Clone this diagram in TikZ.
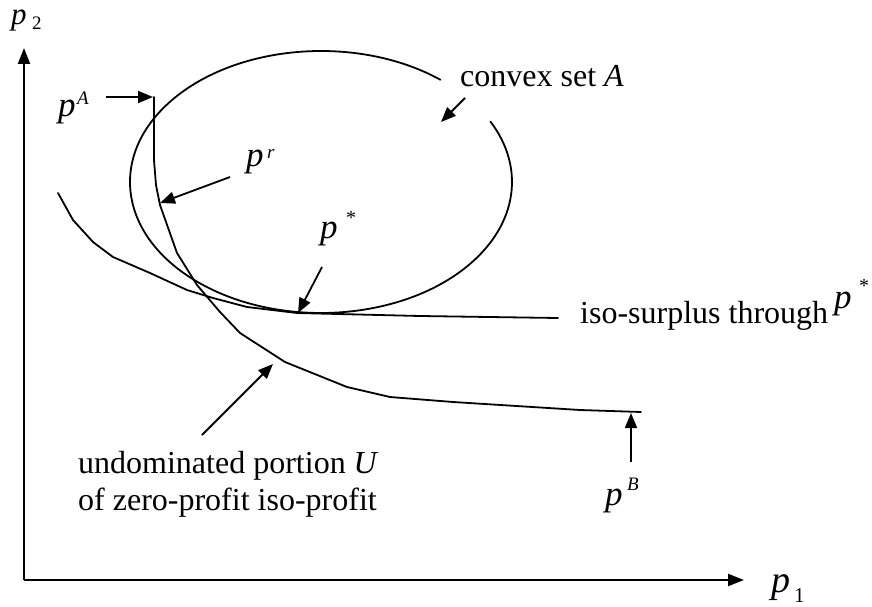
\documentclass[tikz,border=0pt]{standalone}
\usepackage{fontspec}
\setmainfont{Liberation Serif}
\usetikzlibrary{arrows.meta}
\begin{document}
\begin{tikzpicture}[x=1pt,y=-1pt,
  curve/.style={line width=1.8pt, line join=round, line cap=round},
  axisline/.style={line width=2.2pt, -{Triangle[length=16pt,width=12pt]}},
  pointer/.style={line width=1.8pt, -{Triangle[length=15pt,width=12pt]}},
  lbl/.style={inner sep=0pt, anchor=base west, font=\fontsize{32}{38}\selectfont},
  plbl/.style={inner sep=0pt, anchor=base west, font=\fontsize{35}{38}\selectfont\itshape},
  suplbl/.style={inner sep=0pt, anchor=base west, font=\fontsize{19}{20}\selectfont\itshape},
]
\useasboundingbox (0,0) rectangle (872,607);

% axes
\coordinate (O) at (24,580);
\coordinate (ytip) at (24,48);
\coordinate (xtip) at (744,580);
\draw[axisline] (O) -- (ytip);
\draw[axisline] (O) -- (xtip);
\node[plbl, font=\fontsize{31}{34}\selectfont\itshape] (p2) at (11,25) {p};
\node[lbl, font=\fontsize{19}{20}\selectfont] (p2sub) at (32,30) {2};
\node[plbl, font=\fontsize{38}{40}\selectfont\itshape] (p1) at (771,592) {p};
\node[lbl, font=\fontsize{21}{22}\selectfont] (p1sub) at (794,602) {1};

% convex set A (ellipse with a gap at upper right)
\coordinate (Acenter) at (321,182);
\draw[curve] (Acenter) ++(-51.3:191 and 131)
  arc[start angle=-51.3, end angle=-387.5, x radius=191, y radius=131];

% iso-surplus curve
\draw[curve] (58,193) -- (73,220) -- (93,242) -- (113,257) -- (150,273)
  -- (187,290) -- (213,298) -- (247,307) -- (297,313) -- (420,316) -- (558,318);

% undominated portion U
\draw[curve] (154,97) -- (154,160) -- (156,185) -- (160,205) -- (177,253)
  -- (197,285) -- (220,312) -- (240,333) -- (285,362) -- (347,387)
  -- (390,397) -- (453,402) -- (580,410) -- (641,412);

% labels
\node[plbl] (pA) at (58,117) {p};
\node[suplbl] (pAsup) at (77,105) {A};
\node[plbl] (pr) at (246,166) {p};
\node[suplbl] (prsup) at (267,158) {r};
\node[plbl] (pstar) at (320,238) {p};
\node[suplbl, font=\fontsize{20}{20}\selectfont] (pstarsup) at (346,224) {*};
\node[plbl] (pB) at (605,505) {p};
\node[suplbl] (pBsup) at (627,490) {B};
\node[lbl] (convex) at (460,87) {convex set \textit{A}};
\node[lbl] (iso) at (580,323) {iso-surplus through};
\node[plbl] (isop) at (834,308) {p};
\node[suplbl, font=\fontsize{20}{20}\selectfont] (isopsup) at (859,292) {*};
\node[lbl] (und1) at (78,473) {undominated portion \textit{U}};
\node[lbl] (und2) at (78,510) {of zero-profit iso-profit};

% pointers
\coordinate (pAtail) at (106,97);   \coordinate (pAtip) at (153,97);
\coordinate (prtail) at (230,177);  \coordinate (prtip) at (160,203);
\coordinate (pstail) at (322,267);  \coordinate (pstip) at (298,313);
\coordinate (cvtail) at (465,98);   \coordinate (cvtip) at (441,122);
\coordinate (untail) at (202,435);  \coordinate (untip) at (273,364);
\coordinate (pBtail) at (631,462);  \coordinate (pBtip) at (631,413);
\draw[pointer] (pAtail) -- (pAtip);
\draw[pointer] (prtail) -- (prtip);
\draw[pointer] (pstail) -- (pstip);
\draw[pointer] (cvtail) -- (cvtip);
\draw[pointer] (untail) -- (untip);
\draw[pointer] (pBtail) -- (pBtip);
\end{tikzpicture}
\end{document}
